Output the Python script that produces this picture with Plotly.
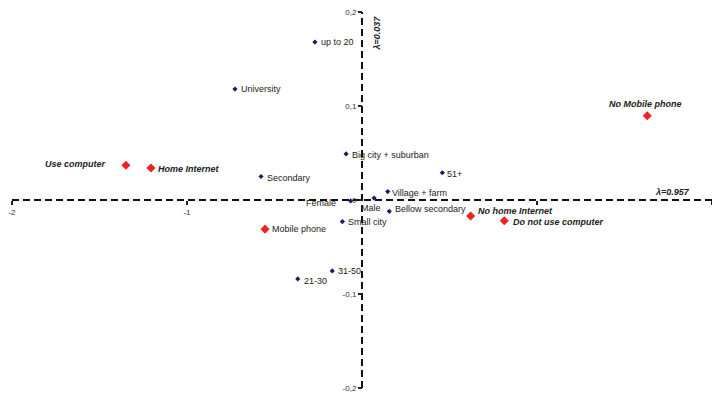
import plotly.graph_objects as go

# ---- data ----
blue_labels = ["up to 20", "University", "Big city + suburban", "Secondary", "51+",
               "Village + farm", "Bellow secondary", "Small city", "31-50", "21-30",
               "Female", "Male"]
blue_x = [-0.269, -0.726, -0.091, -0.577, 0.459, 0.147, 0.156, -0.112, -0.170, -0.367, -0.065, 0.069]
blue_y = [0.168, 0.118, 0.049, 0.025, 0.029, 0.009, -0.012, -0.023, -0.0755, -0.084, -0.001, 0.002]

red_labels = ["Use computer", "Home Internet", "Mobile phone", "No home Internet",
              "Do not use computer", "No Mobile phone"]
red_x = [-1.349, -1.206, -0.554, 0.621, 0.813, 1.630]
red_y = [0.037, 0.034, -0.031, -0.017, -0.022, 0.0897]

x_tickvals = [-2, -1, 1, 2]
x_ticktext = ["-2", "-1", "", "2"]
y_tickvals = [0.2, 0.1, 0, -0.1, -0.2]
y_ticktext = ["0,2", "0,1", "0", "-0,1", "-0,2"]

lambda_x_text = "λ=0.957"
lambda_y_text = "λ=0.037"

# ---- style ----
FONT = "Liberation Sans Narrow, Arial Narrow, Liberation Sans, Arial"
BLUE = "#1c1c6e"
RED = "#ee2222"
TXT = "#222222"
LBL_SIZE = 9

# label placement: (xanchor, yanchor, xshift, yshift, bold-italic)
label_style = {
    "up to 20": ("left", "middle", 4, 0, False),
    "University": ("left", "middle", 4, 0, False),
    "Big city + suburban": ("left", "middle", 4, -1, False),
    "Secondary": ("left", "middle", 4, -1, False),
    "51+": ("left", "middle", 3, -1, False),
    "Village + farm": ("left", "middle", 2, -1, False),
    "Bellow secondary": ("left", "middle", 4, 2, False),
    "Small city": ("left", "middle", 4, 0, False),
    "31-50": ("left", "middle", 4, 0, False),
    "21-30": ("left", "middle", 4, -2, False),
    "Female": ("right", "middle", -13, -2, False),
    "Male": ("center", "top", -3, -3, False),
    "Use computer": ("right", "middle", -18, 1, True),
    "Home Internet": ("left", "middle", 5, -1, True),
    "Mobile phone": ("left", "middle", 5, 0, False),
    "No home Internet": ("left", "middle", 5, 5, True),
    "Do not use computer": ("left", "middle", 7, -1, True),
    "No Mobile phone": ("center", "bottom", -2, 5, True),
}

fig = go.Figure()
fig.add_trace(go.Scatter(x=blue_x, y=blue_y, mode="markers",
                         marker=dict(symbol="diamond", size=4, color=BLUE),
                         hoverinfo="skip", showlegend=False))
fig.add_trace(go.Scatter(x=red_x, y=red_y, mode="markers",
                         marker=dict(symbol="diamond", size=7, color=RED),
                         hoverinfo="skip", showlegend=False))

annotations = []
for labels, xs, ys in ((blue_labels, blue_x, blue_y), (red_labels, red_x, red_y)):
    for lab, x, y in zip(labels, xs, ys):
        xa, ya, dx, dy, bi = label_style[lab]
        text = f"<b><i>{lab}</i></b>" if bi else lab
        annotations.append(dict(x=x, y=y, xref="x", yref="y", text=text, showarrow=False,
                                xanchor=xa, yanchor=ya, xshift=dx, yshift=dy,
                                font=dict(family=FONT, size=LBL_SIZE, color=TXT)))

annotations.append(dict(x=1.886, y=0, xref="x", yref="y", text=f"<b><i>{lambda_x_text}</i></b>",
                        showarrow=False, xanchor="right", yanchor="bottom", yshift=1,
                        font=dict(family=FONT, size=LBL_SIZE, color=TXT)))
annotations.append(dict(x=0, y=0.2, xref="x", yref="y", text=f"<b><i>{lambda_y_text}</i></b>",
                        showarrow=False, xanchor="left", yanchor="top", xshift=7, yshift=-2,
                        textangle=-90, font=dict(family=FONT, size=LBL_SIZE, color=TXT)))

fig.update_layout(
    width=712, height=396,
    margin=dict(l=12, r=0, t=12, b=8),
    paper_bgcolor="white", plot_bgcolor="white",
    hovermode=False,
    font=dict(family=FONT, color=TXT),
    annotations=annotations,
    xaxis=dict(range=[-2, 2], anchor="free", position=0.5, showgrid=False, zeroline=False,
               showline=False, tickvals=x_tickvals, ticktext=x_ticktext, ticks="outside",
               ticklen=4, tickwidth=1.5, tickcolor="#222", automargin=False, fixedrange=True,
               tickfont=dict(family=FONT, size=8, color="#333")),
    yaxis=dict(range=[-0.2, 0.2], anchor="free", position=0.5, showgrid=False, zeroline=False,
               showline=False, tickvals=y_tickvals, ticktext=y_ticktext, ticks="outside",
               ticklen=4, tickwidth=1.5, tickcolor="#222", automargin=False, fixedrange=True,
               tickfont=dict(family=FONT, size=8, color="#333")),
    shapes=[
        dict(type="line", xref="x", yref="y", x0=-2, x1=2, y0=0, y1=0,
             line=dict(color="#111", width=2, dash="7px,4px"), layer="below"),
        dict(type="line", xref="x", yref="y", x0=0, x1=0, y0=-0.2, y1=0.2,
             line=dict(color="#111", width=2, dash="7px,4px"), layer="below"),
    ],
)

fig.write_html("out.html", config={"displayModeBar": False},
               post_script="document.body.style.margin='0';")
